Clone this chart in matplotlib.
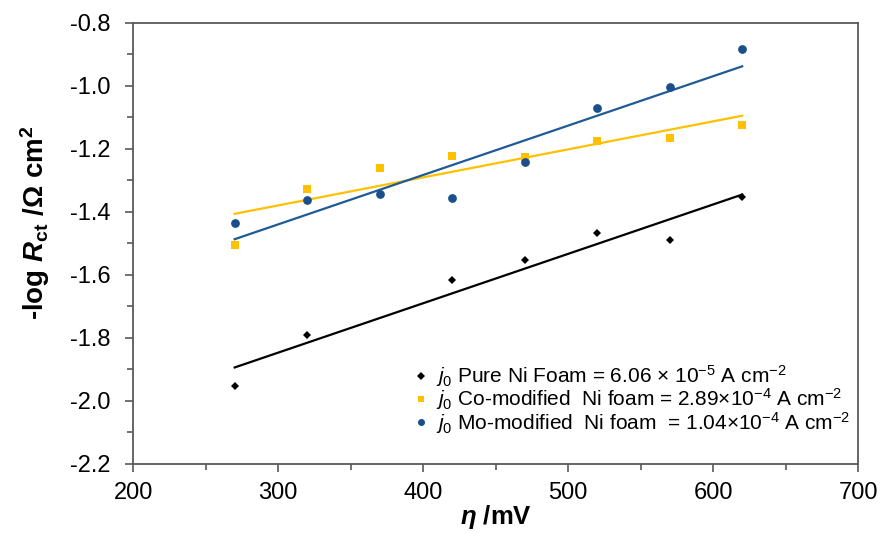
import numpy as np
import matplotlib
matplotlib.use("Agg")
import matplotlib.pyplot as plt
from matplotlib.ticker import MultipleLocator, FormatStrFormatter

plt.rcParams['font.family'] = ['Liberation Sans', 'DejaVu Sans']
plt.rcParams['mathtext.fontset'] = 'custom'
plt.rcParams['mathtext.rm'] = 'Liberation Sans'
plt.rcParams['mathtext.it'] = 'Liberation Sans:italic'
plt.rcParams['mathtext.bf'] = 'Liberation Sans:bold'
plt.rcParams['mathtext.bfit'] = 'Liberation Sans:italic:bold'
plt.rcParams['axes.unicode_minus'] = False

# Data
eta_pure = [270, 320, 420, 470, 520, 570, 620]
y_pure = [-1.951, -1.791, -1.616, -1.552, -1.468, -1.488, -1.351]
eta_co = [270, 320, 370, 420, 470, 520, 570, 620]
y_co = [-1.506, -1.327, -1.260, -1.221, -1.225, -1.174, -1.164, -1.125]
eta_mo = [270, 320, 370, 420, 470, 520, 570, 620]
y_mo = [-1.435, -1.363, -1.342, -1.356, -1.243, -1.071, -1.004, -0.883]

labels = [
    r"$\mathit{j}_{\mathit{0}}$ Pure Ni Foam = 6.06 × 10$^{-5}$ A cm$^{-2}$",
    r"$\mathit{j}_{0}$ Co-modified  Ni foam = 2.89×10$^{-4}$ A cm$^{-2}$",
    r"$\mathit{j}_{0}$ Mo-modified  Ni foam  = 1.04×10$^{-4}$ A cm$^{-2}$",
]
c_pure = "#000000"
c_co = "#FFC000"
c_mo = "#1A4F8B"
c_mo_line = "#1F5A96"

fig = plt.figure(figsize=(8.82, 5.33), dpi=100)
ax = fig.add_axes([0.151, 0.1295, 0.822, 0.8275])

series = [
    (eta_pure, y_pure, c_pure, c_pure, 'D', 4.5, labels[0]),
    (eta_co, y_co, c_co, c_co, 's', 5.5, labels[1]),
    (eta_mo, y_mo, c_mo, c_mo_line, 'o', 6.3, labels[2]),
]
handles = []
for x, y, mc, lc, m, ms, lab in series:
    x = np.array(x, float); y = np.array(y, float)
    h, = ax.plot(x, y, linestyle='none', marker=m, ms=ms, color=mc,
                 markeredgewidth=0, label=lab, zorder=3)
    p = np.polyfit(x, y, 1)
    xf = np.array([x.min(), x.max()])
    ax.plot(xf, np.polyval(p, xf), color=lc, lw=1.6, zorder=2)
    handles.append(h)

ax.set_xlim(200, 700)
ax.set_ylim(-2.2, -0.8)
ax.xaxis.set_major_locator(MultipleLocator(100))
ax.xaxis.set_minor_locator(MultipleLocator(50))
ax.yaxis.set_major_locator(MultipleLocator(0.2))
ax.yaxis.set_minor_locator(MultipleLocator(0.1))
ax.yaxis.set_major_formatter(FormatStrFormatter('%.1f'))

for s in ax.spines.values():
    s.set_color('#595959')
    s.set_linewidth(1.3)
ax.tick_params(which='both', direction='out', color='#595959', width=1.2,
               labelsize=17, labelcolor='black')
ax.tick_params(which='major', length=6)
ax.tick_params(which='minor', length=4.2)
ax.tick_params(axis='y', which='major', pad=10)
ax.tick_params(axis='x', which='major', pad=7)

ax.set_xlabel(r"$\mathbfit{η}$ /mV", fontsize=18.5, fontweight='bold', labelpad=-1)
ax.set_ylabel(r"-log $\mathbfit{R}_{\mathbf{ct}}$ /Ω cm$^{\mathbf{2}}$",
              fontsize=20, fontweight='bold')
ax.yaxis.set_label_coords(-0.112, 0.546)

leg = ax.legend(handles=handles, loc='lower right', frameon=False,
                fontsize=15, handlelength=0.5, handletextpad=0.45,
                labelspacing=-0.12, borderaxespad=0.0, markerscale=0.8,
                bbox_to_anchor=(1.0, 0.045))

fig.savefig("out.png", dpi=100)
